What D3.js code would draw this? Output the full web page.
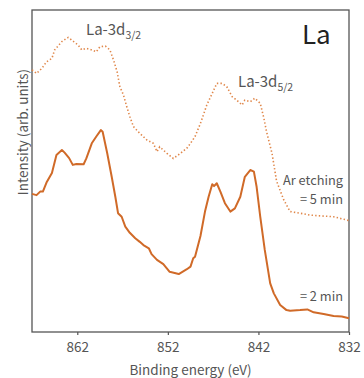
<!DOCTYPE html>
<html>
<head>
<meta charset="utf-8">
<script src="https://cdn.jsdelivr.net/npm/d3@7"></script>
<style>
  html, body { margin: 0; padding: 0; background: #fff; }
  svg { display: block; }
  text { font-family: "Noto Sans CJK JP", "Noto Sans", sans-serif; }
</style>
</head>
<body>
<svg id="chart" width="364" height="378"></svg>
<script>
// La 3d XPS spectra after Ar etching (binding energy in eV, intensity in arb. units)
const energy2min = [867.0, 866.5, 866.1, 865.8, 865.4, 864.8, 864.3, 863.7, 863.4, 862.9, 862.5, 862.1, 861.3, 861.0, 860.4, 859.9, 859.4, 859.2, 858.7, 858.2, 857.8, 857.5, 857.1, 856.7, 856.2, 855.6, 855.1, 854.7, 854.1, 853.8, 853.2, 852.5, 851.8, 850.8, 849.9, 849.5, 849.2, 849.0, 848.4, 847.9, 847.5, 847.1, 846.9, 846.6, 846.2, 845.7, 845.1, 844.6, 844.0, 843.5, 842.9, 842.5, 842.2, 841.8, 841.3, 840.7, 840.3, 839.6, 838.9, 838.5, 837.4, 836.6, 835.9, 834.8, 833.7, 832.8, 832.0];
const intensity2min = [42.9, 42.5, 43.6, 43.6, 46.4, 49.4, 55.0, 56.5, 55.7, 54.0, 51.9, 52.2, 52.1, 53.9, 58.6, 60.7, 62.7, 62.2, 55.6, 48.2, 42.0, 36.9, 35.8, 32.7, 30.8, 29.1, 28.0, 27.0, 26.0, 24.2, 22.4, 21.1, 18.7, 18.0, 19.5, 20.3, 22.9, 23.4, 29.8, 37.4, 42.0, 45.9, 45.3, 46.2, 43.6, 40.0, 37.4, 38.4, 42.0, 48.2, 50.3, 49.8, 45.1, 35.8, 25.5, 15.1, 12.0, 8.4, 6.8, 6.6, 6.8, 7.0, 6.1, 5.6, 5.0, 4.8, 4.3];

const energy5min = [867.0, 866.5, 865.9, 865.4, 864.8, 864.5, 863.7, 863.0, 862.4, 861.9, 861.5, 861.0, 860.4, 859.9, 859.5, 858.9, 858.4, 858.0, 857.6, 857.3, 856.9, 856.5, 856.2, 855.8, 855.1, 854.3, 853.6, 853.2, 852.9, 852.1, 851.4, 850.6, 849.9, 849.5, 849.0, 848.4, 847.7, 847.1, 846.6, 846.0, 845.5, 844.9, 844.4, 843.8, 843.5, 842.9, 842.4, 841.8, 841.4, 841.1, 840.5, 840.0, 839.2, 838.5, 837.4, 836.3, 834.8, 833.7, 833.0, 832.0];
const intensity5min = [81.4, 80.3, 81.9, 83.9, 85.0, 87.6, 90.2, 91.5, 90.2, 89.1, 87.6, 88.1, 87.6, 87.0, 88.6, 88.8, 87.6, 84.5, 80.8, 76.2, 73.6, 69.6, 66.9, 63.8, 61.7, 59.6, 58.6, 56.0, 57.5, 55.5, 53.9, 55.5, 57.1, 58.6, 60.7, 64.8, 70.5, 74.1, 77.2, 77.2, 76.2, 73.1, 72.0, 70.5, 72.0, 71.5, 72.6, 71.0, 66.4, 62.2, 55.5, 46.9, 41.0, 37.4, 36.9, 36.3, 36.0, 35.8, 35.3, 34.6];

const xTicks = [862, 852, 842, 832];
const xDomain = [867, 832];
const yDomain = [0, 100];

const svg = d3.select("#chart");
const margin = { left: 32, top: 10, right: 15, bottom: 46 };
const W = 364, H = 378;

const x = d3.scaleLinear().domain(xDomain).range([margin.left, W - margin.right]);
const y = d3.scaleLinear().domain(yDomain).range([H - margin.bottom, margin.top]);

const axisColor = "#555";
const textColor = "#555";

// plot frame
svg.append("rect")
  .attr("x", x(xDomain[0])).attr("y", y(yDomain[1]))
  .attr("width", x(xDomain[1]) - x(xDomain[0]))
  .attr("height", y(yDomain[0]) - y(yDomain[1]))
  .attr("fill", "none")
  .attr("stroke", axisColor)
  .attr("stroke-width", 1.3);

// bottom axis
const xAxis = d3.axisBottom(x).tickValues(xTicks).tickSize(3).tickPadding(7).tickFormat(d3.format("d"));
const gx = svg.append("g")
  .attr("transform", `translate(0,${y(yDomain[0])})`)
  .call(xAxis);
gx.select(".domain").remove();
gx.selectAll(".tick line").attr("stroke", axisColor).attr("stroke-width", 1.2);
gx.selectAll(".tick text")
  .attr("fill", textColor)
  .style("font-size", "13.5px")
  .style("font-family", "'Noto Sans CJK JP', 'Noto Sans', sans-serif");

// axis titles
svg.append("text")
  .attr("x", (x(xDomain[0]) + x(xDomain[1])) / 2)
  .attr("y", 375)
  .attr("text-anchor", "middle")
  .attr("fill", textColor)
  .style("font-size", "13.5px")
  .text("Binding energy (eV)");

svg.append("text")
  .attr("transform", `translate(22,132) rotate(-90)`)
  .attr("text-anchor", "middle")
  .attr("dominant-baseline", "central")
  .attr("fill", textColor)
  .style("font-size", "13.5px")
  .text("Intensity (arb. units)");

// spectra
const line = d3.line()
  .x(d => x(d[0]))
  .y(d => y(d[1]))
  .curve(d3.curveLinear);

const data5 = energy5min.map((e, i) => [e, intensity5min[i]]);
const data2 = energy2min.map((e, i) => [e, intensity2min[i]]);

svg.append("path")
  .datum(data5)
  .attr("d", line)
  .attr("fill", "none")
  .attr("stroke", "#e0874a")
  .attr("stroke-width", 1.6)
  .attr("stroke-dasharray", "1.4,2.2");

svg.append("path")
  .datum(data2)
  .attr("d", line)
  .attr("fill", "none")
  .attr("stroke", "#d06a28")
  .attr("stroke-width", 2)
  .attr("stroke-linejoin", "round");

// peak labels
const peak32 = svg.append("text")
  .attr("x", 86).attr("y", 35)
  .attr("fill", textColor)
  .style("font-size", "15px")
  .text("La-3d");
peak32.append("tspan").attr("dy", 4).style("font-size", "10.5px").text("3/2");

const peak52 = svg.append("text")
  .attr("x", 238).attr("y", 87)
  .attr("fill", textColor)
  .style("font-size", "15px")
  .text("La-3d");
peak52.append("tspan").attr("dy", 4).style("font-size", "10.5px").text("5/2");

// element label
svg.append("text")
  .attr("x", 302).attr("y", 44)
  .attr("fill", "#222")
  .style("font-size", "26px")
  .text("La");

// etching time labels
const etch = [
  { t: "Ar etching", yy: 185 },
  { t: "= 5 min", yy: 204 },
  { t: "= 2 min", yy: 301 }
];
svg.selectAll(".etch")
  .data(etch)
  .enter().append("text")
  .attr("class", "etch")
  .attr("x", 343)
  .attr("y", d => d.yy)
  .attr("text-anchor", "end")
  .attr("fill", textColor)
  .style("font-size", "12.8px")
  .text(d => d.t);
</script>
</body>
</html>
